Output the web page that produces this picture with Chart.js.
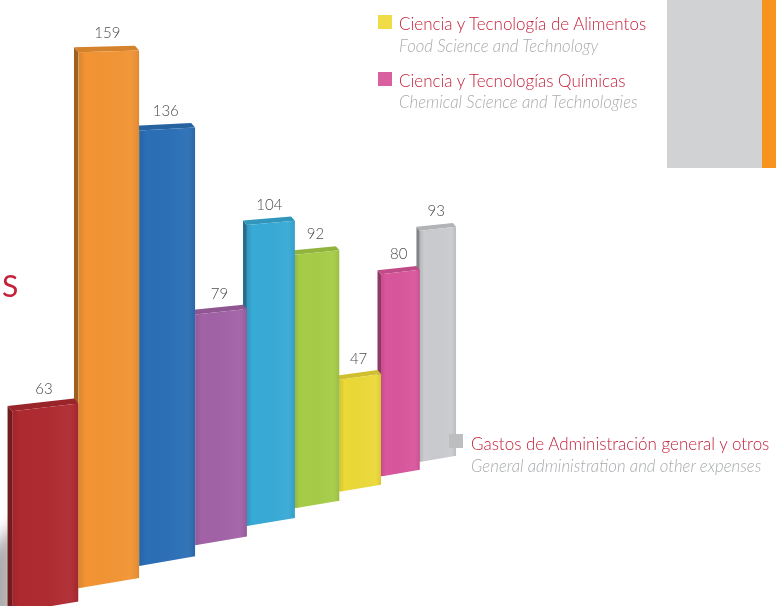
<!DOCTYPE html>
<html>
<head>
<meta charset="utf-8">
<script src="https://cdn.jsdelivr.net/npm/chart.js@4.4.1/dist/chart.umd.min.js"></script>
<style>
  html, body { margin:0; padding:0; background:#fff; }
  #wrap { position:relative; width:776px; height:606px; overflow:hidden; background:#fff; font-family: Lato, "Open Sans", sans-serif; }
  #c { position:absolute; left:0; top:0; }
  .blk { position:absolute; }
  .t { position:absolute; white-space:nowrap; line-height:1; font-weight:300; }
  .red { color:#c4213a; font-size:17px; }
  .sub { color:#a9abae; font-size:16.8px; font-style:italic; }
  .sq { position:absolute; width:14px; height:14px; }
</style>
</head>
<body>
<div id="wrap">
  <div class="blk" style="left:667px;top:0;width:95px;height:168px;background:#d1d2d4"></div>
  <div class="blk" style="left:762px;top:0;width:14px;height:168px;background:#f7941d"></div>
  <canvas id="c" width="776" height="606"></canvas>
  <div class="t" style="left:2px;top:270px;font-size:30px;font-weight:400;color:#c4213a;">S</div>

  <div class="sq" style="left:378px;top:15px;background:#efdc47"></div>
  <div class="t red" id="l1" style="left:399px;top:15px;"></div>
  <div class="t sub" id="l1s" style="left:399px;top:38px;"></div>

  <div class="sq" style="left:378px;top:72px;background:#d9609f"></div>
  <div class="t red" id="l2" style="left:399px;top:72px;"></div>
  <div class="t sub" id="l2s" style="left:399px;top:94px;"></div>

  <div class="sq" style="left:449px;top:434px;background:#bcbec0"></div>
  <div class="t red" id="l3" style="left:471px;top:435px;"></div>
  <div class="t sub" id="l3s" style="left:471px;top:458px;"></div>
</div>
<script>
// ---- data ----
const categories = ['Área 1', 'Área 2', 'Área 3', 'Área 4', 'Área 5', 'Área 6',
  'Ciencia y Tecnología de Alimentos', 'Ciencia y Tecnologías Químicas', 'Gastos de Administración general y otros'];
const values = [63, 159, 136, 79, 104, 92, 47, 80, 93];
const barColors = ['#ae2a30', '#f29433', '#2b6fb6', '#a262a6', '#37aad6', '#a6cc47', '#ebd938', '#d9569c', '#c9cbce'];
const legendTitles = ['Ciencia y Tecnología de Alimentos', 'Ciencia y Tecnologías Químicas', 'Gastos de Administración general y otros'];
const legendSubtitles = ['Food Science and Technology', 'Chemical Science and Technologies', 'General administration and other expenses'];

['l1','l2','l3'].forEach((id, i) => document.getElementById(id).textContent = legendTitles[i]);
['l1s','l2s','l3s'].forEach((id, i) => document.getElementById(id).textContent = legendSubtitles[i]);

// ---- perspective view (layout only) ----
const VP = { x: 1559, y: 35.6 };  // vanishing point of the row of bars
const NEAR = { x: 46, y: 607 };   // screen point of the first category on the floor
const K = 0.04375;                // foreshortening per category step
const SCALE = 3.7;                // px per value unit at the near end
const SB = -0.17;                 // slope of a bar's bottom edge
const SC = 0.00027;               // flattening of the edge slope with height

function g(u) { return 1 / (1 + K * u); }
function X(u) { return VP.x + (NEAR.x - VP.x) * g(u); }
function shade(hex, f) {
  const n = parseInt(hex.slice(1), 16);
  let r = (n >> 16) & 255, gr = (n >> 8) & 255, b = n & 255;
  if (f < 0) { r *= 1 + f; gr *= 1 + f; b *= 1 + f; }
  else { r += (255 - r) * f; gr += (255 - gr) * f; b += (255 - b) * f; }
  return 'rgb(' + Math.round(r) + ',' + Math.round(gr) + ',' + Math.round(b) + ')';
}
function poly(ctx, pts) {
  ctx.beginPath();
  ctx.moveTo(pts[0].x, pts[0].y);
  for (let k = 1; k < pts.length; k++) ctx.lineTo(pts[k].x, pts[k].y);
  ctx.closePath();
}
const add = (a, d) => ({ x: a.x + d.x, y: a.y + d.y });

function barGeometry(chart, el) {
  const xs = chart.scales.x, ys = chart.scales.y;
  const p0 = xs.getPixelForValue(0), p1 = xs.getPixelForValue(1);
  const uOf = px => (px - p0) / (p1 - p0);
  const { x, y, width } = el.getProps(['x', 'y', 'width'], true);
  const uC = uOf(x), uL = uOf(x - width / 2), uR = uOf(x + width / 2);
  const gC = g(uC);
  const xC = X(uC), xL = X(uL), xR = X(uR);
  const yb = VP.y + (NEAR.y - VP.y) * gC;
  const h = (ys.getValueForPixel(y) - ys.min) * SCALE * gC;
  const st = SB + SC * h;
  return {
    xC, yTop: yb - h, gL: g(uL), gR: g(uR),
    lb: { x: xL, y: yb + SB * (xL - xC) }, rb: { x: xR, y: yb + SB * (xR - xC) },
    rt: { x: xR, y: yb - h + st * (xR - xC) }, lt: { x: xL, y: yb - h + st * (xL - xC) }
  };
}

const perspective = {
  id: 'perspective',
  beforeDatasetsDraw(chart) {
    const ctx = chart.ctx;
    const meta = chart.getDatasetMeta(0);

    // soft floor shadow at the near end
    ctx.save();
    ctx.filter = 'blur(7px)';
    ctx.fillStyle = 'rgba(90,90,90,0.5)';
    poly(ctx, [{x: -14, y: 560}, {x: 14, y: 520}, {x: 14, y: 620}, {x: -14, y: 620}]);
    ctx.fill();
    ctx.restore();

    for (let i = meta.data.length - 1; i >= 0; i--) {
      const el = meta.data[i];
      const { x, y, base, width } = el.getProps(['x', 'y', 'base', 'width'], true);
      const G = barGeometry(chart, el);
      const { lb, rb, rt, lt } = G;
      const dL = { x: -4.5 * G.gL, y: -5 * G.gL }, dR = { x: -4.5 * G.gR, y: -5 * G.gR };
      const col = el.options.backgroundColor;

      // left side face
      ctx.save();
      ctx.fillStyle = shade(col, -0.35);
      poly(ctx, [lb, lt, add(lt, dL), add(lb, dL)]);
      ctx.fill();
      // top face
      ctx.fillStyle = shade(col, -0.12);
      poly(ctx, [lt, rt, add(rt, dR), add(lt, dL)]);
      ctx.fill();
      ctx.restore();

      // front face: the library's bar element, mapped into the view
      const pts = [lb, rb, rt, lt];
      const minX = Math.min(...pts.map(p => p.x)), maxX = Math.max(...pts.map(p => p.x));
      const minY = Math.min(...pts.map(p => p.y)), maxY = Math.max(...pts.map(p => p.y));
      const sx = (maxX - minX) / width, sy = (maxY - minY) / (base - y);
      ctx.save();
      poly(ctx, pts);
      ctx.clip();
      ctx.setTransform(sx, 0, 0, sy, minX - sx * (x - width / 2), minY - sy * y);
      el.draw(ctx);
      ctx.restore();

      // faint shading across the front
      ctx.save();
      poly(ctx, pts);
      ctx.clip();
      const grd = ctx.createLinearGradient(minX, 0, maxX, 0);
      grd.addColorStop(0, 'rgba(0,0,0,0.10)');
      grd.addColorStop(0.12, 'rgba(0,0,0,0)');
      grd.addColorStop(0.85, 'rgba(255,255,255,0.04)');
      grd.addColorStop(1, 'rgba(0,0,0,0.08)');
      ctx.fillStyle = grd;
      ctx.fillRect(minX, minY, maxX - minX, maxY - minY);
      ctx.restore();
    }
    return false;
  },
  afterDraw(chart) {
    const ctx = chart.ctx;
    const meta = chart.getDatasetMeta(0);
    ctx.save();
    ctx.font = '300 15px Lato, "Open Sans", sans-serif';
    ctx.fillStyle = '#4d4d4f';
    ctx.textAlign = 'center';
    ctx.textBaseline = 'alphabetic';
    meta.data.forEach((el, i) => {
      const G = barGeometry(chart, el);
      ctx.fillText(String(values[i]), G.xC - 2, G.yTop - 13);
    });
    ctx.restore();
  }
};

new Chart(document.getElementById('c'), {
  type: 'bar',
  data: {
    labels: categories,
    datasets: [{ data: values, backgroundColor: barColors, borderWidth: 0, barPercentage: 1, categoryPercentage: 1 }]
  },
  options: {
    responsive: false,
    devicePixelRatio: 1,
    animation: false,
    layout: { padding: 0 },
    plugins: { legend: { display: false }, tooltip: { enabled: false } },
    scales: {
      x: { display: false, offset: true },
      y: { display: false, min: 9, max: 175 }
    }
  },
  plugins: [perspective]
});
</script>
</body>
</html>
